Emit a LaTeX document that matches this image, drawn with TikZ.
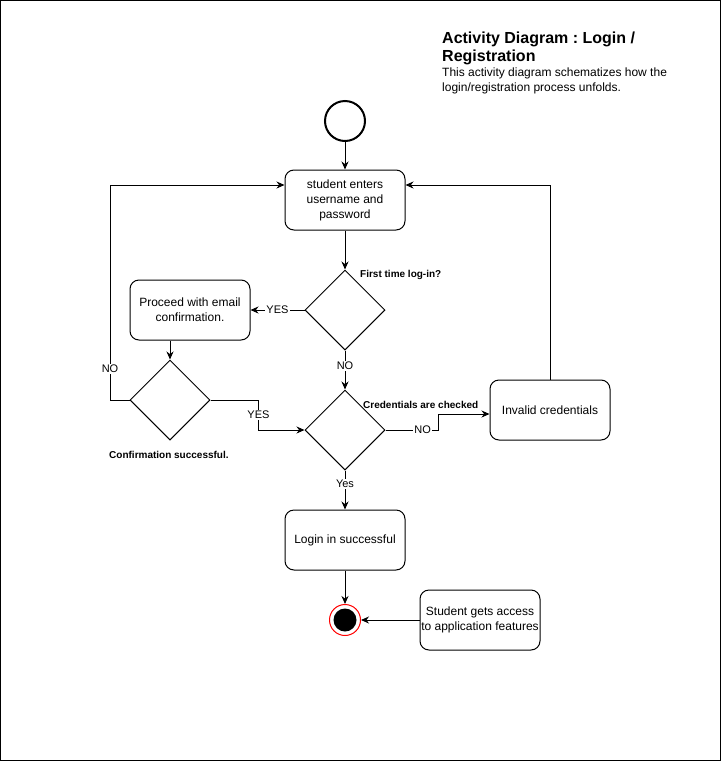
\documentclass[tikz,border=0pt]{standalone}
\usepackage{fontspec}
\setmainfont{Liberation Sans}
\frenchspacing
\usetikzlibrary{arrows.meta,shapes.geometric}
\begin{document}
\begin{tikzpicture}[x=1pt,y=-1pt,
  box/.style={draw,rounded corners=9pt,minimum width=120pt,minimum height=60pt,align=center,font=\fontsize{12}{15}\selectfont,line width=1pt,inner sep=0pt},
  dec/.style={draw,diamond,minimum width=80pt,minimum height=80pt,inner sep=0pt,line width=1pt},
  arr/.style={-{Stealth[length=8pt,width=7pt]},line width=1pt},
  lab/.style={fill=white,font=\fontsize{11}{13}\selectfont,inner sep=1pt},
  blab/.style={font=\bfseries\fontsize{10}{12}\selectfont,inner sep=0pt,anchor=west}]
\useasboundingbox (0,0) rectangle (721,761);
\draw[line width=1pt] (0.5,0.5) rectangle (720.5,760.5);
% title
\node[anchor=north west,inner sep=0pt,align=left,font=\bfseries\fontsize{16}{18}\selectfont] (title) at (442,32) {Activity Diagram : Login /\\Registration};
\node[anchor=north west,inner sep=0pt,align=left,font=\fontsize{12}{15}\selectfont] (desc) at (442,68) {This activity diagram schematizes how the\\login/registration process unfolds.};
% nodes
\node[circle,draw,line width=2pt,minimum size=40pt,inner sep=0pt] (start) at (345,121) {};
\node[box] (b1) at (345,200) {\rule{0pt}{1pt}student enters\\username and\\password};
\node[dec] (d1) at (345,310) {};
\node[box] (b2) at (190,310) {Proceed with email\\confirmation.};
\node[dec] (d2) at (170,400) {};
\node[dec] (d3) at (345,430) {};
\node[box] (b3) at (550,410) {Invalid credentials};
\node[box] (b4) at (345,540) {Login in successful};
\node[circle,draw=red,line width=1pt,minimum size=31pt,inner sep=0pt] (end) at (345,620) {};
\node[circle,fill=black,minimum size=23pt,inner sep=0pt] (endin) at (end.center) {};
\node[box] (b5) at (480,620) {Student gets access\\to application features};
% decision texts
\node[blab] (t1) at (360,275) {First time log-in?};
\node[blab] (t2) at (363,405) {Credentials are checked};
\node[blab] (t3) at (109,455) {Confirmation successful.};
% helper coordinates
\coordinate (b1l) at ([yshift=15pt]b1.west);
\coordinate (b1r) at ([yshift=15pt]b1.east);
\coordinate (c1) at (110,400);
\coordinate (b3in) at ([yshift=-4pt]b3.west);
\coordinate (b2out) at (b2.south -| d2.north);
% connectors
\draw[arr] (start) -- (b1);
\draw[arr] (b1) -- (d1);
\draw[arr] (d1.west) -- node[lab]{YES} (b2.east);
\draw[arr] (d1.south) -- node[lab,pos=0.4]{NO} (d3.north);
\draw[arr] (b2out) -- (d2.north);
\draw[arr] (d2.west) -- (c1) |- node[lab,pos=0.072]{NO} (b1l);
\draw[arr] (d2.east) -- ++(48,0) |- node[lab,pos=0.25]{YES} (d3.west);
\draw[arr] (d3.east) -- node[lab,pos=0.7]{NO} ++(53,0) |- (b3in);
\draw[arr] (b3.north) |- (b1r);
\draw[arr] (d3.south) -- node[lab,pos=0.35]{Yes} (b4.north);
\draw[arr] (b4) -- (end);
\draw[arr] (b5) -- (end);
\end{tikzpicture}
\end{document}
